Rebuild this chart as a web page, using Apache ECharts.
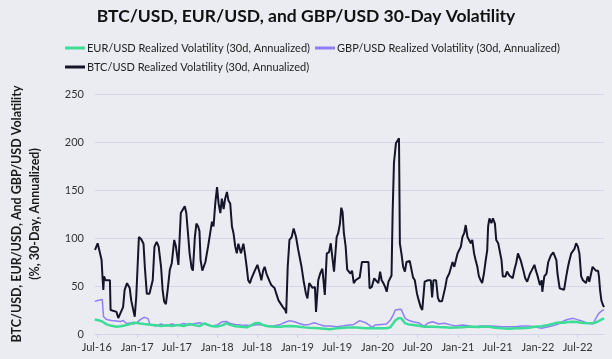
<!DOCTYPE html>
<html>
<head>
<meta charset="utf-8">
<script src="https://cdn.jsdelivr.net/npm/echarts@6/dist/echarts.min.js"></script>
<style>
html,body{margin:0;padding:0;background:#EBECF2;}
#chart{width:612px;height:359px;}
</style>
</head>
<body>
<div id="chart"></div>
<script>
const titleText = "BTC/USD, EUR/USD, and GBP/USD 30-Day Volatility";
const seriesNames = [
  "EUR/USD Realized Volatility (30d, Annualized)",
  "GBP/USD Realized Volatility (30d, Annualized)",
  "BTC/USD Realized Volatility (30d, Annualized)"
];
const yTitle = "BTC/USD, EUR/USD, And GBP/USD Volatility\n(%, 30-Day, Annualized)";
const yTicks = [0, 50, 100, 150, 200, 250];
const xTickDates = ["2016-07-01","2017-01-01","2017-07-01","2018-01-01","2018-07-01","2019-01-01","2019-07-01","2020-01-01","2020-07-01","2021-01-01","2021-07-01","2022-01-01","2022-07-01"];
const xTickLabels = ["Jul-16","Jan-17","Jul-17","Jan-18","Jul-18","Jan-19","Jul-19","Jan-20","Jul-20","Jan-21","Jul-21","Jan-22","Jul-22"];

const btcDates = ["2016-06-23","2016-07-05","2016-07-13","2016-07-23","2016-07-28","2016-07-31","2016-08-03","2016-08-10","2016-08-30","2016-09-02","2016-09-29","2016-10-07","2016-10-14","2016-10-29","2016-11-05","2016-11-16","2016-11-28","2016-12-05","2016-12-13","2016-12-21","2016-12-28",
"2017-01-09","2017-01-19","2017-01-30","2017-02-05","2017-02-14","2017-02-26","2017-03-13","2017-03-21","2017-03-31","2017-04-09","2017-04-20","2017-04-27","2017-05-04","2017-05-12","2017-05-20","2017-05-30","2017-06-08","2017-06-19","2017-06-26","2017-07-08","2017-07-19","2017-07-26","2017-08-06","2017-08-13","2017-08-22","2017-08-28","2017-09-06","2017-09-12","2017-09-21","2017-09-28","2017-10-06","2017-10-12","2017-10-17","2017-10-25","2017-11-01","2017-11-08","2017-11-20","2017-11-27","2017-12-08","2017-12-15","2017-12-23","2017-12-31",
"2018-01-07","2018-01-15","2018-01-22","2018-01-30","2018-02-06","2018-02-14","2018-02-21","2018-03-01","2018-03-09","2018-03-16","2018-03-24","2018-03-31","2018-04-07","2018-04-19","2018-04-30","2018-05-07","2018-05-15","2018-05-22","2018-05-30","2018-06-06","2018-06-21","2018-07-03","2018-07-14","2018-07-21","2018-07-29","2018-08-05","2018-08-13","2018-08-28","2018-09-04","2018-09-19","2018-09-27","2018-10-07","2018-10-16","2018-10-27","2018-11-07","2018-11-11","2018-11-18","2018-11-26","2018-12-06","2018-12-15","2018-12-26",
"2019-01-05","2019-01-14","2019-01-20","2019-01-29","2019-02-09","2019-02-16","2019-02-24","2019-03-04","2019-03-11","2019-03-22","2019-03-27","2019-03-31","2019-04-06","2019-04-15","2019-04-25","2019-05-03","2019-05-06","2019-05-15","2019-05-25","2019-06-02","2019-06-09","2019-06-17","2019-06-24","2019-06-29","2019-07-06","2019-07-14","2019-07-20","2019-07-26","2019-08-01","2019-08-09","2019-08-16","2019-08-24","2019-08-31","2019-09-07","2019-09-15","2019-09-23","2019-09-30","2019-10-12","2019-10-22","2019-11-07","2019-11-14","2019-11-21","2019-11-26","2019-12-06","2019-12-17","2019-12-26",
"2020-01-05","2020-01-13","2020-01-20","2020-01-28","2020-02-05","2020-02-12","2020-02-20","2020-02-27","2020-03-05","2020-03-10","2020-03-16","2020-03-25","2020-04-01","2020-04-08","2020-04-12","2020-04-19","2020-04-27","2020-05-05","2020-05-12","2020-05-20","2020-05-27","2020-06-03","2020-06-11","2020-06-19","2020-06-29","2020-07-07","2020-07-16","2020-07-23","2020-08-03","2020-08-07","2020-08-18","2020-08-25","2020-08-31","2020-09-06","2020-09-12","2020-09-24","2020-10-02","2020-10-09","2020-10-21","2020-10-27","2020-11-05","2020-11-12","2020-11-23","2020-12-01","2020-12-08","2020-12-16","2020-12-23","2020-12-31",
"2021-01-07","2021-01-15","2021-01-22","2021-01-30","2021-02-06","2021-02-14","2021-02-21","2021-03-01","2021-03-08","2021-03-16","2021-03-23","2021-03-31","2021-04-07","2021-04-15","2021-04-22","2021-04-30","2021-05-07","2021-05-15","2021-05-19","2021-05-25","2021-06-03","2021-06-10","2021-06-19","2021-06-25","2021-07-04","2021-07-10","2021-07-19","2021-07-25","2021-08-06","2021-08-13","2021-08-24","2021-09-02","2021-09-08","2021-09-17","2021-09-24","2021-10-02","2021-10-08","2021-10-14","2021-10-20","2021-10-28","2021-11-04","2021-11-13","2021-11-19","2021-11-26","2021-12-03","2021-12-16","2021-12-23","2021-12-31",
"2022-01-10","2022-01-18","2022-01-21","2022-01-30","2022-02-09","2022-02-17","2022-03-01","2022-03-12","2022-03-19","2022-03-26","2022-03-31","2022-04-10","2022-04-18","2022-04-30","2022-05-10","2022-05-18","2022-05-25","2022-06-02","2022-06-09","2022-06-17","2022-06-24","2022-07-02","2022-07-09","2022-07-17","2022-07-25","2022-08-01","2022-08-08","2022-08-16","2022-08-23","2022-08-31","2022-09-07","2022-09-14","2022-09-22","2022-10-02","2022-10-06","2022-10-11","2022-10-17","2022-10-23","2022-10-29"];
const btcVol = [87.5,94.5,87,77,56,46,60,56,56,25,23,16.6,18,28,46,53,48,35,34,18,39,
101,99,94,70,42,42,56,91,96,91,70,46,34,31,46,67,74,98,92,72,126,128,133,126,101,84,69,66,101,115,112,107,77,66,66,75,91,91,117,112,136,153,
136,126,141,130,141,148,139,136,112,105,91,84,94,84,94,84,70,56,53,58,66,72,63,56,66,70,63,54.5,51,48,42,35,34,28,25,21.5,70,98,101,110,101,
87.5,87.5,70,56,42,37,53,54.5,48,49,23,25,56,63,68,68,40.6,84,85,94.5,96,65,65,101,105,115,131.6,127,105,91,67,68,63,66,53,56,58,59,75,75,74,75,47.6,49,58,56,
53,65,56,53,49,44,54.5,56,61,126,178,198.6,199,204,94.5,84,70,65,75,76,76,74,59,56,42,35,28,25,54.5,53,56,58,56,38,56,56,38,34,34,33,49,58,63,61,75,70,72,84,
84,91,101,105,113.5,101,102,94.5,98,84,77,70,60,56,53,63,75,87.5,112,120.5,115.5,120.5,115,98,94.5,87.5,77,60,60,65,61,63,58,68,74,84,85,77,72,65,58,54.5,56,63,66,72,66,60,
51,56,44,60,63,75,82,85,84,77,63,47.6,46,46,60,70,77,84,82,89,94.5,91,84,60,56,58,53,60,54.5,56,70,72,66,66,60,46,35,31,28];

const fxDates = ["2016-06-22","2016-07-14","2016-07-26","2016-08-01","2016-08-15","2016-09-06","2016-09-29","2016-10-17","2016-10-30","2016-11-13","2016-12-01","2016-12-14",
"2017-01-01","2017-01-15","2017-02-02","2017-02-20","2017-03-01","2017-03-28","2017-04-20","2017-05-12","2017-06-08","2017-07-05","2017-08-01","2017-08-28","2017-09-24","2017-10-12","2017-11-04","2017-11-22","2017-12-10",
"2018-01-01","2018-01-24","2018-02-11","2018-03-01","2018-03-24","2018-04-19","2018-05-16","2018-06-03","2018-06-21","2018-07-09","2018-07-27","2018-08-19","2018-09-19","2018-10-16","2018-11-04","2018-11-26","2018-12-19",
"2019-01-10","2019-02-02","2019-02-24","2019-03-19","2019-04-10","2019-05-03","2019-05-30","2019-06-30","2019-08-01","2019-08-24","2019-09-15","2019-10-12","2019-11-08","2019-11-26","2019-12-05","2019-12-23",
"2020-01-19","2020-02-11","2020-02-29","2020-03-13","2020-03-22","2020-04-05","2020-04-18","2020-05-06","2020-05-24","2020-06-11","2020-07-08","2020-07-31","2020-08-18","2020-09-09","2020-10-06","2020-11-02","2020-11-29","2020-12-22",
"2021-01-22","2021-02-18","2021-03-08","2021-04-04","2021-04-22","2021-05-24","2021-06-20","2021-07-22","2021-08-23","2021-09-19","2021-10-21","2021-11-20","2021-12-17",
"2022-01-18","2022-02-18","2022-03-17","2022-04-09","2022-04-27","2022-05-19","2022-06-11","2022-06-29","2022-07-17","2022-08-17","2022-09-09","2022-09-22","2022-10-05","2022-10-19","2022-10-29"];
const eurVol = [15,14,13,11,10,8.5,7.6,8,8.5,9.4,10.5,11.8,
11.5,11,10.4,10,9.5,9,8.3,9,8.3,9.4,8.3,10.4,9,8.3,11,9.4,8,
7.8,9,11,9.5,8,7.6,7,9,11.1,11.5,9.5,8,7.6,7.5,8,8.3,8,
7.5,6.9,6.5,6.2,5.9,5.5,4.9,5.9,6.5,6.9,6.9,6.5,6,5.9,5.9,5.9,
5.9,5.9,7,11.1,14,16.3,16.3,11.1,10,9.4,8.5,7.6,7.6,7.6,7.2,7,6.5,6.9,
7,7.6,7.6,7.2,7.6,7.6,6.5,5.9,5.5,5.9,5.9,6.5,7.6,
8,9.4,11.1,12,11.8,12.5,12.8,12.5,11.8,11.1,11.5,12,13.5,15.3,16.3];
const gbpVol = [34,35.5,36,18,15,14,13.5,13,14,11,11.5,10.4,
12,15,17.4,16,9.5,8.3,10.4,8.5,10.4,9.2,11,9.4,11,11.8,10.4,9,8.3,
9.4,12.8,13,11,10,9.5,9,8.5,9.4,10,9,8.3,8.5,10,12,13.9,12.8,
11,9.4,10,11.8,10,8.3,8.3,7.6,8.5,9.4,10,13.9,11.8,9,6.9,9.4,
10,10.4,14.6,20,25,25.5,25.7,16.3,14,12.8,11.5,8,11.5,12.8,10.4,11.1,9.5,8.3,
9.4,8.5,7.6,8,8.3,8.3,8,7.6,7.6,7.6,8.3,8.3,7.6,
5.9,7.6,9,11,13.5,15.3,16.3,15,13.9,11.1,10.4,16.3,21.5,24,25.5];

const colors = ["#3DDC97", "#8F7FF5", "#15152A"];
const FONT = "Lato";
const ts = s => Date.parse(s);
const pairs = (d, v) => d.map((s, i) => [ts(s), v[i]]);
const tickVals = xTickDates.map(ts);
const labelMap = {};
tickVals.forEach((t, i) => { labelMap[t] = xTickLabels[i]; });

const chart = echarts.init(document.getElementById('chart'), null, {renderer: 'canvas'});
chart.setOption({
  backgroundColor: "#EBECF2",
  animation: false,
  textStyle: {fontFamily: FONT},
  title: {
    text: titleText, left: 'center', top: 2,
    textStyle: {fontFamily: FONT, fontSize: 17.5, fontWeight: 'bold', color: '#111'}
  },
  legend: {
    left: 60, top: 36, width: 540, itemGap: 5,
    itemWidth: 20, itemHeight: 3, icon: 'rect',
    data: seriesNames,
    textStyle: {fontFamily: FONT, fontSize: 11, color: '#222', lineHeight: 14, padding: [0,0,0,-3]}
  },
  grid: {left: 89, right: 8, top: 94, bottom: 25, containLabel: false},
  xAxis: {
    type: 'value',
    min: ts(btcDates[0]), max: ts(btcDates[btcDates.length - 1]),
    splitLine: {show: false},
    axisLine: {show: true, lineStyle: {color: '#D3D3EC', width: 1}},
    axisTick: {show: true, customValues: tickVals, length: 4, lineStyle: {color: '#D3D3EC'}},
    axisLabel: {customValues: tickVals, formatter: v => labelMap[v] || '', fontFamily: FONT, fontSize: 11, color: '#333', margin: 8}
  },
  yAxis: {
    type: 'value', min: 0, max: 250, interval: 50,
    name: yTitle, nameLocation: 'middle', nameRotate: 90, nameGap: 51,
    nameTextStyle: {fontFamily: FONT, fontSize: 12.5, fontWeight: 'bold', color: '#1a1a1a', lineHeight: 18},
    axisLine: {show: false}, axisTick: {show: false},
    axisLabel: {fontFamily: FONT, fontSize: 11, color: '#333', margin: 11},
    splitLine: {lineStyle: {color: '#D3D3EC', width: 1}}
  },
  series: [
    {name: seriesNames[2], type: 'line', data: pairs(btcDates, btcVol), showSymbol: false, lineStyle: {color: colors[2], width: 2}, itemStyle: {color: colors[2]}, z: 2},
    {name: seriesNames[1], type: 'line', data: pairs(fxDates, gbpVol), showSymbol: false, lineStyle: {color: colors[1], width: 1.5}, itemStyle: {color: colors[1]}, z: 3},
    {name: seriesNames[0], type: 'line', data: pairs(fxDates, eurVol), showSymbol: false, lineStyle: {color: colors[0], width: 2.5}, itemStyle: {color: colors[0]}, z: 4}
  ]
});
</script>
</body>
</html>
